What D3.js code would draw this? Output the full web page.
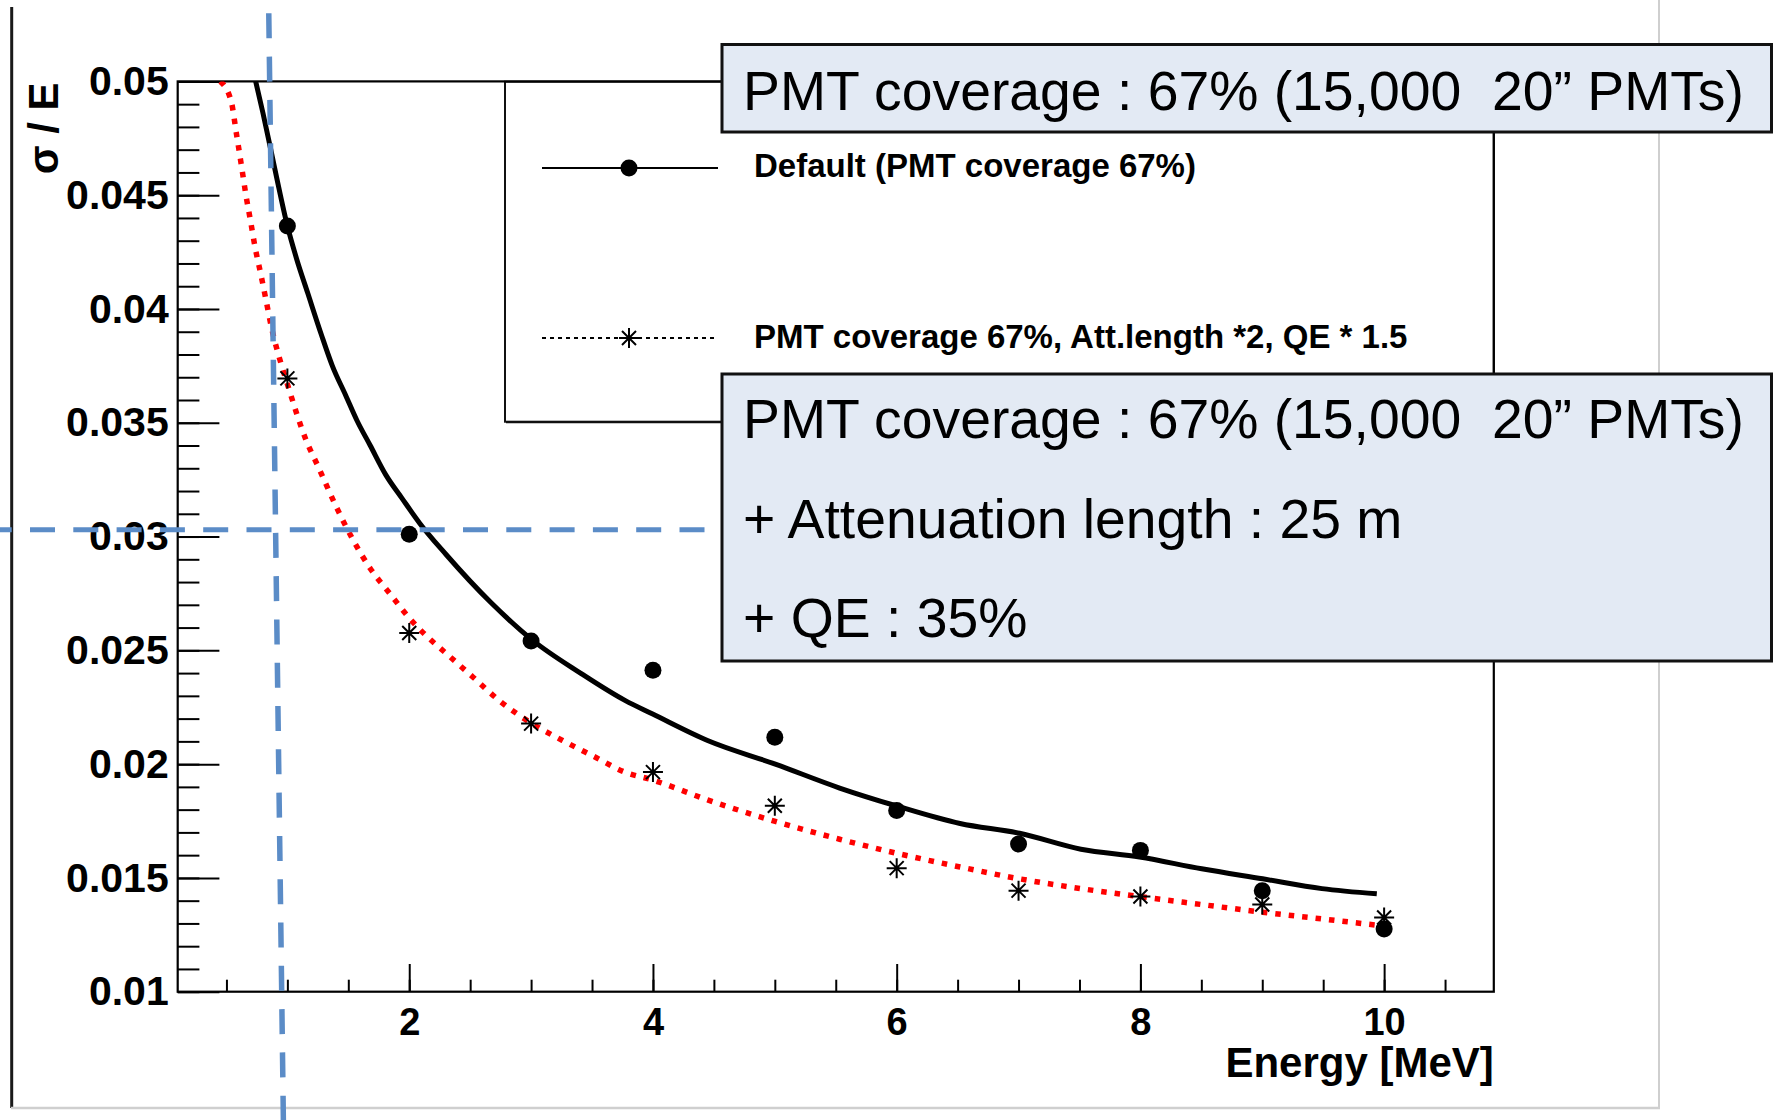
<!DOCTYPE html>
<html>
<head>
<meta charset="utf-8">
<script src="https://cdn.jsdelivr.net/npm/d3@7"></script>
<style>
  html, body { margin: 0; padding: 0; background: #ffffff; }
  svg { display: block; }
  text { font-family: "Liberation Sans", Arial, Helvetica, sans-serif; }
</style>
</head>
<body>
<svg id="chart" width="1780" height="1120"></svg>
<script>
// ---------------- data ----------------
const energies = [1, 2, 3, 4, 5, 6, 7, 8, 9, 10];
const defaultRes = [0.04365, 0.0301, 0.02541, 0.02413, 0.02118, 0.01796, 0.01649, 0.01621, 0.01444, 0.01276];
const improvedRes = [0.03695, 0.02576, 0.02178, 0.01965, 0.01817, 0.01543, 0.01444, 0.01418, 0.01383, 0.01326];

// fit curves
const fitDefaultE = [0.74, 0.80, 0.856, 0.911, 1.0, 1.076, 1.167, 1.277, 1.369, 1.479, 1.571, 1.68, 1.809, 1.938, 2.084, 2.304, 2.67, 3.008, 3.405, 3.77, 3.998, 4.448, 5.004, 5.532, 5.994, 6.52, 7.008, 7.512, 7.993, 8.503, 9.003, 9.49, 9.94];
const fitDefaultY = [0.0500, 0.0486, 0.0472, 0.0458, 0.04365, 0.0422, 0.0407, 0.0389, 0.0375, 0.0362, 0.0351, 0.0340, 0.0327, 0.0317, 0.0306, 0.0292, 0.0271, 0.02546, 0.0240, 0.0228, 0.0222, 0.02104, 0.0200, 0.01895, 0.01817, 0.01739, 0.01696, 0.01626, 0.01592, 0.0154, 0.01496, 0.01453, 0.0143];
const fitImprovedE = [0.45, 0.54, 0.582, 0.623, 0.66, 0.70, 0.732, 0.787, 0.828, 0.869, 0.937, 1.0, 1.149, 1.259, 1.387, 1.534, 1.68, 1.846, 2.0, 2.158, 2.304, 2.524, 2.744, 3.008, 3.258, 3.514, 3.77, 3.998, 4.448, 5.004, 5.532, 5.994, 6.52, 7.008, 7.512, 7.993, 8.503, 9.003, 9.49, 9.94];
const fitImprovedY = [0.0500, 0.0491, 0.0477, 0.0463, 0.0450, 0.0438, 0.0428, 0.0414, 0.0403, 0.0392, 0.0378, 0.0367, 0.0343, 0.0330, 0.03147, 0.0299, 0.0286, 0.02746, 0.02642, 0.02555, 0.02486, 0.02382, 0.02277, 0.02178, 0.02104, 0.02034, 0.01965, 0.0193, 0.01843, 0.01748, 0.0167, 0.01609, 0.01548, 0.01496, 0.01453, 0.01418, 0.01383, 0.01349, 0.0132, 0.01292];

const xTickValues = [2, 4, 6, 8, 10];
const xTickLabels = ["2", "4", "6", "8", "10"];
const yTickValues = [0.01, 0.015, 0.02, 0.025, 0.03, 0.035, 0.04, 0.045, 0.05];
const yTickLabels = ["0.01", "0.015", "0.02", "0.025", "0.03", "0.035", "0.04", "0.045", "0.05"];

const legendLabels = ["Default (PMT coverage 67%)", "PMT coverage 67%, Att.length *2, QE * 1.5"];
const box1Lines = ["PMT coverage : 67% (15,000  20\u201D PMTs)"];
const box2Lines = ["PMT coverage : 67% (15,000  20\u201D PMTs)", "+ Attenuation length : 25 m", "+ QE : 35%"];
const xTitle = "Energy [MeV]";
const yTitle = "\u03C3 / E";
const markE = 1;        // vertical guide at 1 MeV
const markRes = 0.0303; // horizontal guide near 3%

// ---------------- layout ----------------
const svg = d3.select("#chart");
const L = 177.7, R = 1493.8, T = 81.4, B = 991.7;
const x = d3.scaleLinear().domain([0.1, 10.9]).range([L, R]);
const y = d3.scaleLinear().domain([0.01, 0.05]).range([B, T]);

svg.append("rect").attr("width", 1780).attr("height", 1120).attr("fill", "#ffffff");

// canvas edges
svg.append("line").attr("x1", 11.7).attr("x2", 11.7).attr("y1", 7).attr("y2", 1108)
  .attr("stroke", "#1a1a1a").attr("stroke-width", 3);
svg.append("line").attr("x1", 11).attr("x2", 1660).attr("y1", 1108).attr("y2", 1108)
  .attr("stroke", "#cfcfcf").attr("stroke-width", 2.5);
svg.append("line").attr("x1", 1659).attr("x2", 1659).attr("y1", 0).attr("y2", 1108)
  .attr("stroke", "#cfcfcf").attr("stroke-width", 2);

// legend box (drawn under the curves, white fill)
const legend = svg.append("g");
legend.append("rect").attr("x", 505).attr("y", 81.7).attr("width", R - 505).attr("height", 340)
  .attr("fill", "#ffffff").attr("stroke", "#111").attr("stroke-width", 2);
legend.append("line").attr("x1", 506).attr("x2", R).attr("y1", 422.5).attr("y2", 422.5)
  .attr("stroke", "#111").attr("stroke-width", 1.5);

// frame
svg.append("rect").attr("x", L).attr("y", T).attr("width", R - L).attr("height", B - T)
  .attr("fill", "none").attr("stroke", "#000").attr("stroke-width", 2.2);

// axes (ticks inside, ROOT style)
const yMinor = svg.append("g").attr("transform", `translate(${L},0)`)
  .call(d3.axisLeft(y).tickValues(y.ticks(40)).tickSizeInner(-21.7).tickSizeOuter(0).tickFormat(""));
const yMajor = svg.append("g").attr("transform", `translate(${L},0)`)
  .call(d3.axisLeft(y).tickValues(yTickValues).tickSizeInner(-41.7).tickSizeOuter(0).tickPadding(9)
    .tickFormat((d, i) => yTickLabels[i]));
const xMinor = svg.append("g").attr("transform", `translate(0,${B})`)
  .call(d3.axisBottom(x).tickValues(x.ticks(20)).tickSizeInner(-12).tickSizeOuter(0).tickFormat(""));
const xMajor = svg.append("g").attr("transform", `translate(0,${B})`)
  .call(d3.axisBottom(x).tickValues(xTickValues).tickSizeInner(-27.7).tickSizeOuter(0).tickPadding(16)
    .tickFormat((d, i) => xTickLabels[i]));

[yMinor, yMajor, xMinor, xMajor].forEach(g => {
  g.select(".domain").remove();
  g.selectAll(".tick line").attr("stroke", "#000").attr("stroke-width", 2);
});
yMajor.selectAll("text").attr("font-size", 41).attr("font-weight", "bold").attr("fill", "#000")
  .attr("font-family", "'Liberation Sans', Arial, sans-serif");
xMajor.selectAll("text").attr("font-size", 38).attr("font-weight", "bold").attr("fill", "#000")
  .attr("font-family", "'Liberation Sans', Arial, sans-serif");

// axis titles
svg.append("text").attr("transform", `translate(58,${T + 1}) rotate(-90)`)
  .attr("text-anchor", "end").attr("font-size", 42).attr("font-weight", "bold").text(yTitle);
svg.append("text").attr("x", R).attr("y", 1077).attr("text-anchor", "end")
  .attr("font-size", 42).attr("font-weight", "bold").text(xTitle);

// fit curves
const line = d3.line().x(d => x(d[0])).y(d => y(d[1])).curve(d3.curveMonotoneX);
const clip = svg.append("clipPath").attr("id", "plotclip");
clip.append("rect").attr("x", L).attr("y", T).attr("width", R - L).attr("height", B - T);

svg.append("path").datum(fitImprovedE.map((e, i) => [e, fitImprovedY[i]]))
  .attr("d", line).attr("fill", "none").attr("stroke", "#ff0000").attr("stroke-width", 5.5)
  .attr("stroke-dasharray", "5.5 8").attr("clip-path", "url(#plotclip)");
svg.append("path").datum(fitDefaultE.map((e, i) => [e, fitDefaultY[i]]))
  .attr("d", line).attr("fill", "none").attr("stroke", "#000").attr("stroke-width", 5)
  .attr("clip-path", "url(#plotclip)");

// markers
const starPath = "M-10,0H10M0,-10V10M-7,-7L7,7M-7,7L7,-7";
svg.append("g").selectAll("path").data(energies.map((e, i) => [e, improvedRes[i]])).join("path")
  .attr("transform", d => `translate(${x(d[0])},${y(d[1])})`)
  .attr("d", starPath).attr("fill", "none").attr("stroke", "#000").attr("stroke-width", 2);
svg.append("g").selectAll("circle").data(energies.map((e, i) => [e, defaultRes[i]])).join("circle")
  .attr("cx", d => x(d[0])).attr("cy", d => y(d[1])).attr("r", 8.5).attr("fill", "#000");

// legend content
legend.append("line").attr("x1", 542).attr("x2", 718).attr("y1", 168).attr("y2", 168)
  .attr("stroke", "#000").attr("stroke-width", 2);
legend.append("circle").attr("cx", 629).attr("cy", 168).attr("r", 8.5).attr("fill", "#000");
legend.append("line").attr("x1", 542).attr("x2", 718).attr("y1", 338).attr("y2", 338)
  .attr("stroke", "#000").attr("stroke-width", 2).attr("stroke-dasharray", "4 4");
legend.append("path").attr("transform", "translate(629,338)").attr("d", starPath)
  .attr("fill", "none").attr("stroke", "#000").attr("stroke-width", 2);
legend.selectAll("text.lg").data(legendLabels).join("text").attr("class", "lg")
  .attr("x", 754).attr("y", (d, i) => [177, 348][i])
  .attr("font-size", 33).attr("font-weight", "bold").text(d => d);

// blue dashed guide lines
svg.append("line").attr("x1", 0).attr("x2", 722).attr("y1", y(markRes)).attr("y2", y(markRes))
  .attr("stroke", "#5b8cc7").attr("stroke-width", 5)
  .attr("stroke-dasharray", "25 18.3").attr("stroke-dashoffset", 13.3);
svg.append("line").attr("x1", x(markE) - 18.6).attr("x2", x(markE) - 4).attr("y1", 13.3).attr("y2", 1120)
  .attr("stroke", "#5b8cc7").attr("stroke-width", 5.5)
  .attr("stroke-dasharray", "25 18.3");

// annotation boxes
function box(x0, y0, w, h, lines, baselines) {
  const g = svg.append("g");
  g.append("rect").attr("x", x0).attr("y", y0).attr("width", w).attr("height", h)
    .attr("fill", "#e3eaf4").attr("stroke", "#111").attr("stroke-width", 3);
  g.selectAll("text").data(lines).join("text")
    .attr("x", x0 + 21).attr("y", (d, i) => baselines[i])
    .attr("font-size", 55.3).attr("fill", "#000").style("white-space", "pre").text(d => d);
}
box(722, 44.5, 1049.5, 87.5, box1Lines, [110]);
box(722, 374, 1049.5, 287, box2Lines, [438, 538, 637]);
</script>
</body>
</html>
